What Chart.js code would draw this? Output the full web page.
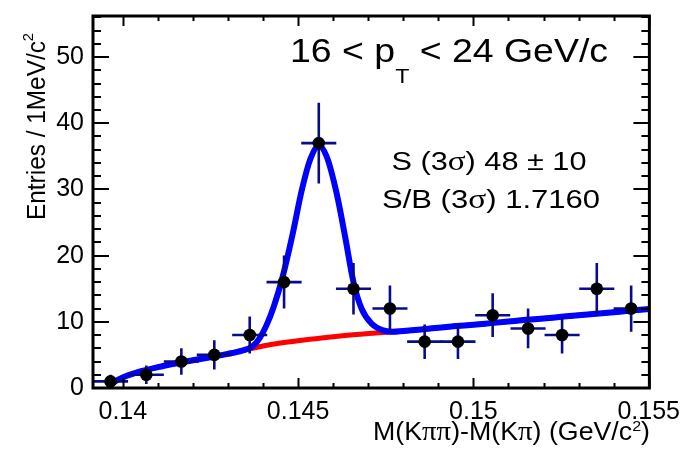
<!DOCTYPE html>
<html>
<head>
<meta charset="utf-8">
<script src="https://cdn.jsdelivr.net/npm/chart.js@4.4.0/dist/chart.umd.min.js"></script>
<style>
  html, body { margin: 0; padding: 0; background: #fff; }
</style>
</head>
<body>
<canvas id="c" width="684" height="451"></canvas>
<script>
// D* delta-mass histogram (1 MeV bins) with sqrt(N) errors
const binCenter = [0.13965, 0.14067, 0.14167, 0.14261, 0.14362, 0.1446, 0.14559, 0.14658,
                   0.14762, 0.14861, 0.14956, 0.15055, 0.15156, 0.15253, 0.15352, 0.1545];
const entries   = [1, 2, 4, 5, 8, 16, 37, 15, 12, 7, 7, 11, 9, 8, 15, 12];
const entryErr  = [1, 1.4, 2, 2.2, 2.8, 4, 6.1, 3.9, 3.5, 2.6, 2.6, 3.3, 3, 2.8, 3.9, 3.5];
const binHalfWidth = 0.0005;

// total fit (signal + background)
const fitX = [0.13962, 0.13975, 0.14, 0.1405, 0.141, 0.1415, 0.142, 0.1425, 0.143, 0.1434,
              0.1437, 0.1439, 0.1441, 0.1443, 0.14455, 0.14483, 0.14511, 0.14535, 0.14559,
              0.14582, 0.1461, 0.14634, 0.14658, 0.14681, 0.1471, 0.1474, 0.1477, 0.148,
              0.1485, 0.149, 0.1495, 0.15, 0.1505, 0.151, 0.1515, 0.152, 0.1525, 0.153,
              0.1535, 0.154, 0.1545, 0.15502];
const fitY = [0.3, 0.9, 1.6, 2.5, 3.15, 3.7, 4.2, 4.65, 5.15, 5.65,
              6.3, 7.5, 9.5, 12.2, 16.6, 22.9, 30.0, 34.6, 36.6,
              34.9, 29.4, 22.9, 16.0, 12.0, 9.7, 8.75, 8.5, 8.62,
              8.85, 9.1, 9.35, 9.55, 9.8, 10.05, 10.3, 10.5, 10.75, 11.0,
              11.2, 11.45, 11.7, 11.95];

// background component only
const bkgX = [0.13962, 0.13975, 0.14, 0.1405, 0.141, 0.1415, 0.142, 0.1425, 0.143, 0.1435,
              0.144, 0.1445, 0.145, 0.1455, 0.146, 0.1465, 0.147, 0.1475, 0.148, 0.1485,
              0.149, 0.1495, 0.15, 0.1505, 0.151, 0.1515, 0.152, 0.1525, 0.153, 0.1535,
              0.154, 0.1545, 0.15502];
const bkgY = [0.3, 0.9, 1.6, 2.5, 3.15, 3.7, 4.2, 4.65, 5.15, 5.75,
              6.35, 6.8, 7.15, 7.45, 7.75, 8.0, 8.25, 8.42, 8.6, 8.85,
              9.1, 9.35, 9.55, 9.8, 10.05, 10.3, 10.5, 10.75, 11.0, 11.2,
              11.45, 11.7, 11.95];

const xTickValues = [0.14, 0.145, 0.15, 0.155];
const yTickValues = [0, 10, 20, 30, 40, 50];
const xMin = 0.13915, xMax = 0.15502;
const yMin = 0, yMax = 56.2;

const SANS = '"Liberation Sans", Arial, Helvetica, sans-serif';
const SERIF = '"Liberation Serif", "Times New Roman", serif';
const errColor = '#0a0a8c';

// draws a row of text pieces (different fonts / offsets), optionally stretched to a width
function drawRuns(ctx, runs, x, y, align, width) {
  let w = 0;
  runs.forEach(r => { ctx.font = r[1]; w += ctx.measureText(r[0]).width; });
  const sx = width ? width / w : 1;
  const x0 = align === 'center' ? -w * sx / 2 : align === 'right' ? -w * sx : 0;
  ctx.save();
  ctx.translate(x + x0, y);
  ctx.scale(sx, 1);
  ctx.textAlign = 'left';
  ctx.textBaseline = 'alphabetic';
  let cx = 0;
  runs.forEach(r => {
    ctx.font = r[1];
    ctx.fillText(r[0], cx, r[2] || 0);
    cx += ctx.measureText(r[0]).width;
  });
  ctx.restore();
}

const rootStyle = {
  id: 'rootStyle',
  afterDatasetDraw(chart, args) {
    // error bars go on top of the fit curves but under the markers
    if (args.index !== 1) return;
    const { ctx, scales: { x, y } } = chart;
    ctx.save();
    ctx.strokeStyle = errColor;
    ctx.lineWidth = 2.6;
    binCenter.forEach((c, i) => {
      const px = x.getPixelForValue(c);
      const py = y.getPixelForValue(entries[i]);
      ctx.beginPath();
      ctx.moveTo(x.getPixelForValue(c - binHalfWidth), py);
      ctx.lineTo(x.getPixelForValue(c + binHalfWidth), py);
      ctx.moveTo(px, y.getPixelForValue(Math.max(0, entries[i] - entryErr[i])));
      ctx.lineTo(px, y.getPixelForValue(entries[i] + entryErr[i]));
      ctx.stroke();
    });
    ctx.restore();
  },
  afterDraw(chart) {
    const { ctx, chartArea: a, scales: { x, y } } = chart;
    ctx.save();
    ctx.strokeStyle = '#000';
    ctx.fillStyle = '#000';

    // ticks on all four sides, pointing inwards
    ctx.lineWidth = 2;
    ctx.beginPath();
    for (let k = 0; k <= 15; k++) {
      const v = 0.14 + k * 0.001;
      const px = Math.round(x.getPixelForValue(v)) + 0.5;
      const len = k % 5 === 0 ? 10 : 5;
      ctx.moveTo(px, a.bottom); ctx.lineTo(px, a.bottom - len);
      ctx.moveTo(px, a.top); ctx.lineTo(px, a.top + len);
    }
    for (let v = 0; v <= yMax; v += 2) {
      const py = Math.round(y.getPixelForValue(v));
      const len = v % 10 === 0 ? 16 : 8;
      ctx.moveTo(a.left, py); ctx.lineTo(a.left + len, py);
      ctx.moveTo(a.right, py); ctx.lineTo(a.right - len, py);
    }
    ctx.stroke();

    // frame
    ctx.lineWidth = 3;
    ctx.strokeRect(a.left, a.top, a.right - a.left, a.bottom - a.top);

    // pT bin label
    drawRuns(ctx, [
      ['16 < p', '34px ' + SANS],
      ['T', '21px ' + SANS, 21],
      [' < 24 GeV/c', '34px ' + SANS]
    ], 290, 62, 'left', 318);

    // signal yield and S/B
    drawRuns(ctx, [
      ['S (3', '26px ' + SANS],
      ['\u03c3', '28px ' + SERIF],
      [') 48 \u00b1 10', '26px ' + SANS]
    ], 489, 170, 'center', 195);
    drawRuns(ctx, [
      ['S/B (3', '26px ' + SANS],
      ['\u03c3', '28px ' + SERIF],
      [') 1.7160', '26px ' + SANS]
    ], 491, 208, 'center', 218);

    // x axis title
    drawRuns(ctx, [
      ['M(K', '25px ' + SANS],
      ['\u03c0\u03c0', '27px ' + SERIF],
      [')-M(K', '25px ' + SANS],
      ['\u03c0', '27px ' + SERIF],
      [') (GeV/c', '25px ' + SANS],
      ['2', '15px ' + SANS, -9],
      [')', '25px ' + SANS]
    ], 650, 440, 'right', 277);

    // y axis title
    ctx.save();
    ctx.translate(45, 220);
    ctx.rotate(-Math.PI / 2);
    drawRuns(ctx, [
      ['Entries / 1MeV/c', '25px ' + SANS],
      ['2', '15px ' + SANS, -12]
    ], 0, 0, 'left', 187);
    ctx.restore();

    ctx.restore();
  }
};

const fmt = v => String(+v.toFixed(4));

new Chart(document.getElementById('c'), {
  type: 'scatter',
  data: {
    datasets: [
      {
        label: 'data',
        data: binCenter.map((c, i) => ({ x: c, y: entries[i] })),
        pointRadius: 6.3,
        pointBackgroundColor: '#000',
        pointBorderWidth: 0,
        showLine: false
      },
      {
        label: 'fit',
        data: fitX.map((v, i) => ({ x: v, y: fitY[i] })),
        showLine: true,
        borderColor: '#0000ff',
        borderWidth: 6,
        pointRadius: 0,
        cubicInterpolationMode: 'monotone',
        borderCapStyle: 'round',
        borderJoinStyle: 'round'
      },
      {
        label: 'background',
        data: bkgX.map((v, i) => ({ x: v, y: bkgY[i] })),
        showLine: true,
        borderColor: '#ff0000',
        borderWidth: 5,
        pointRadius: 0,
        cubicInterpolationMode: 'monotone'
      }
    ]
  },
  options: {
    responsive: false,
    animation: false,
    devicePixelRatio: 1,
    layout: { padding: { left: 0, right: 32, top: 16, bottom: 0 } },
    plugins: { legend: { display: false }, tooltip: { enabled: false } },
    scales: {
      x: {
        type: 'linear',
        min: xMin,
        max: xMax,
        grid: { display: false },
        border: { display: false },
        afterFit(s) { s.height = 63; },
        afterBuildTicks(s) { s.ticks = xTickValues.map(v => ({ value: v })); },
        ticks: {
          autoSkip: false,
          maxRotation: 0,
          padding: 4,
          color: '#000',
          font: { family: SANS, size: 25, lineHeight: 1 },
          callback: v => fmt(v)
        }
      },
      y: {
        type: 'linear',
        min: yMin,
        max: yMax,
        grid: { display: false },
        border: { display: false },
        afterFit(s) { s.width = 93; },
        afterBuildTicks(s) { s.ticks = yTickValues.map(v => ({ value: v })); },
        ticks: {
          autoSkip: false,
          padding: 1,
          color: '#000',
          font: { family: SANS, size: 25, lineHeight: 1 },
          callback: v => fmt(v)
        }
      }
    }
  },
  plugins: [rootStyle]
});
</script>
</body>
</html>
